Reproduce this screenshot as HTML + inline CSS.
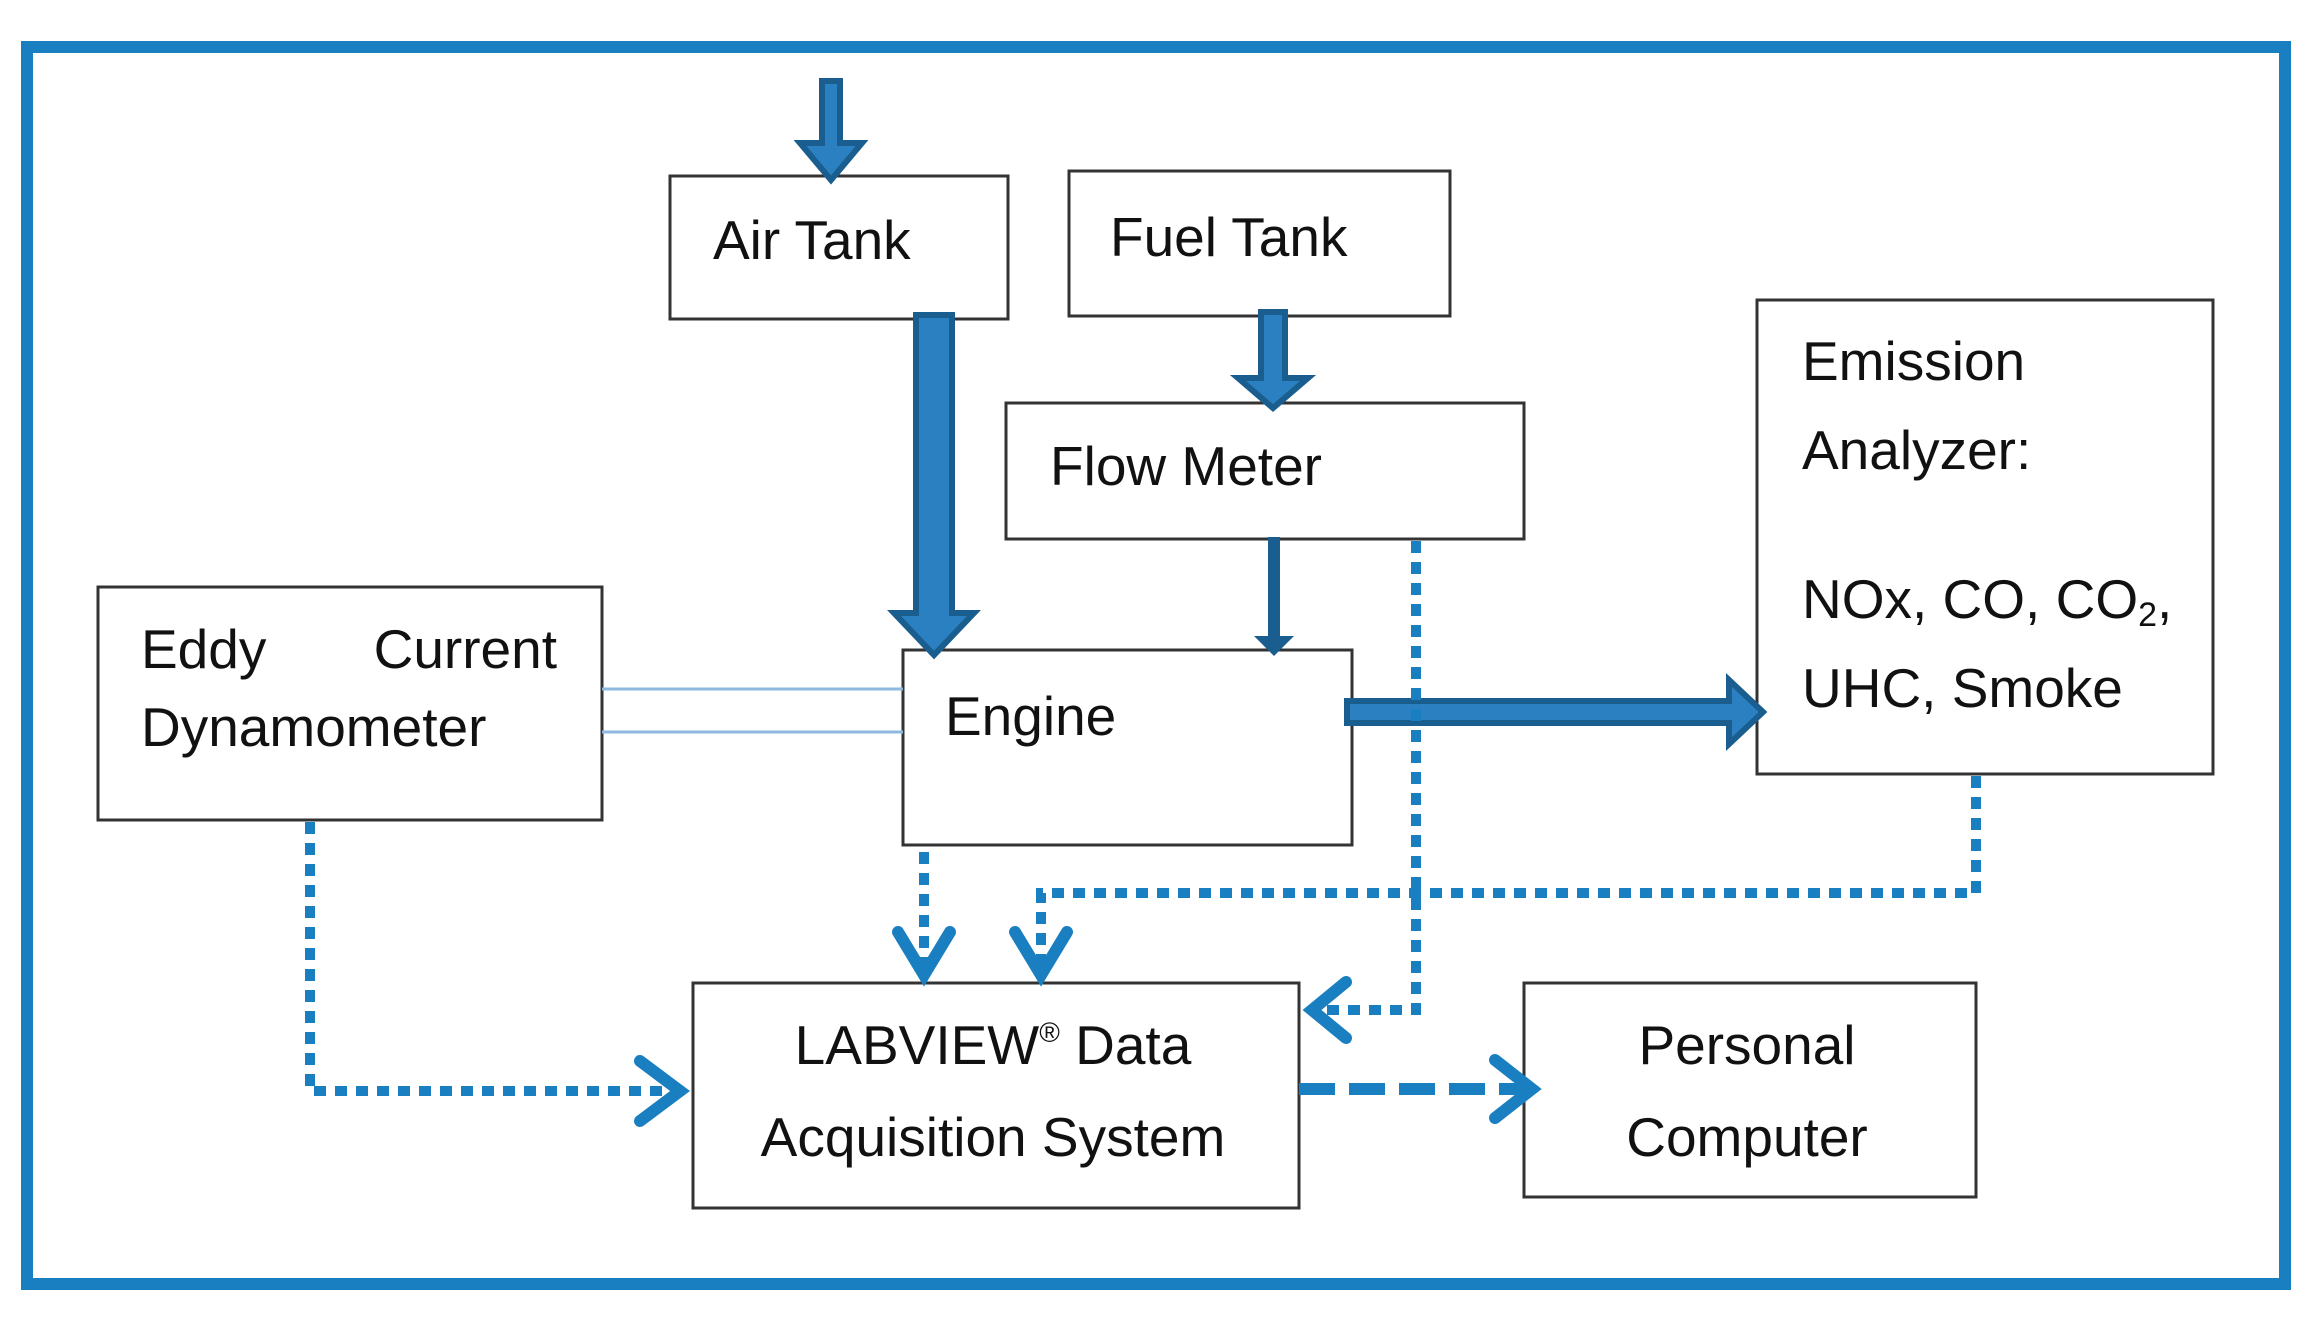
<!DOCTYPE html>
<html><head><meta charset="utf-8"><style>
html,body{margin:0;padding:0;background:#fff;}
svg{display:block;}
text{font-family:"Liberation Sans",sans-serif;font-size:55px;fill:#111;}
</style></head><body>
<svg width="2312" height="1338" viewBox="0 0 2312 1338" xmlns="http://www.w3.org/2000/svg">
<rect x="27" y="47" width="2258" height="1237" fill="none" stroke="#1a7fc1" stroke-width="12"/>
<g fill="#fff" stroke="#333" stroke-width="3">
<rect x="670" y="176" width="338" height="143"/>
<rect x="1069" y="171" width="381" height="145"/>
<rect x="1006" y="403" width="518" height="136"/>
<rect x="1757" y="300" width="456" height="474"/>
<rect x="98" y="587" width="504" height="233"/>
<rect x="903" y="650" width="449" height="195"/>
<rect x="693" y="983" width="606" height="225"/>
<rect x="1524" y="983" width="452" height="214"/>
</g>
<g stroke="#8fb8df" stroke-width="3">
<line x1="602" y1="689" x2="903" y2="689"/>
<line x1="602" y1="732" x2="903" y2="732"/>
</g>
<g fill="#2a80c0" stroke="#1a5e8f" stroke-width="6" stroke-linejoin="miter">
<polygon points="822,81 840,81 840,143 862,143 831,180 800,143 822,143"/>
<polygon points="916,315 952,315 952,613 974,613 934,655 894,613 916,613"/>
<polygon points="1261,312 1285,312 1285,378 1308,378 1273,408 1238,378 1261,378"/>
<polygon points="1347,701 1729,701 1729,680 1763,712 1729,744 1729,723 1347,723"/>
</g>
<polygon points="1268,537 1280,537 1280,636 1294,636 1274,656 1254,636 1268,636" fill="#1a5e8f"/>
<g fill="none" stroke="#1a7fc1" stroke-width="10" stroke-dasharray="12 9">
<polyline points="310,822 310,1091 672,1091"/>
<polyline points="924,852 924,968"/>
<polyline points="1976,776 1976,893 1041,893 1041,968"/>
<polyline points="1416,541 1416,1010 1318,1010"/>
</g>
<line x1="1299" y1="1089" x2="1530" y2="1089" stroke="#1a7fc1" stroke-width="12" stroke-dasharray="36 14"/>
<g fill="none" stroke="#1a7fc1" stroke-width="12" stroke-linecap="round" stroke-linejoin="miter">
<polyline points="640,1061 680,1091 640,1121"/>
<polyline points="898,932 924,975 950,932"/>
<polyline points="1015,932 1041,975 1067,932"/>
<polyline points="1346,982 1312,1010 1346,1038"/>
<polyline points="1495,1060 1532,1089 1495,1118"/>
</g>
<text x="713" y="259">Air Tank</text>
<text x="1110" y="256">Fuel Tank</text>
<text x="1050" y="485">Flow Meter</text>
<text x="1802" y="380">Emission</text>
<text x="1802" y="469">Analyzer:</text>
<text x="1802" y="618">NOx, CO, CO<tspan font-size="34" dy="8">2</tspan><tspan dy="-8">,</tspan></text>
<text x="1802" y="707">UHC, Smoke</text>
<text x="141" y="668">Eddy</text>
<text x="557" y="668" text-anchor="end">Current</text>
<text x="141" y="746">Dynamometer</text>
<text x="945" y="735">Engine</text>
<text x="993" y="1064" text-anchor="middle">LABVIEW<tspan font-size="28" dy="-22">®</tspan><tspan dy="22"> Data</tspan></text>
<text x="993" y="1156" text-anchor="middle">Acquisition System</text>
<text x="1747" y="1064" text-anchor="middle">Personal</text>
<text x="1747" y="1156" text-anchor="middle">Computer</text>
</svg>
</body></html>
